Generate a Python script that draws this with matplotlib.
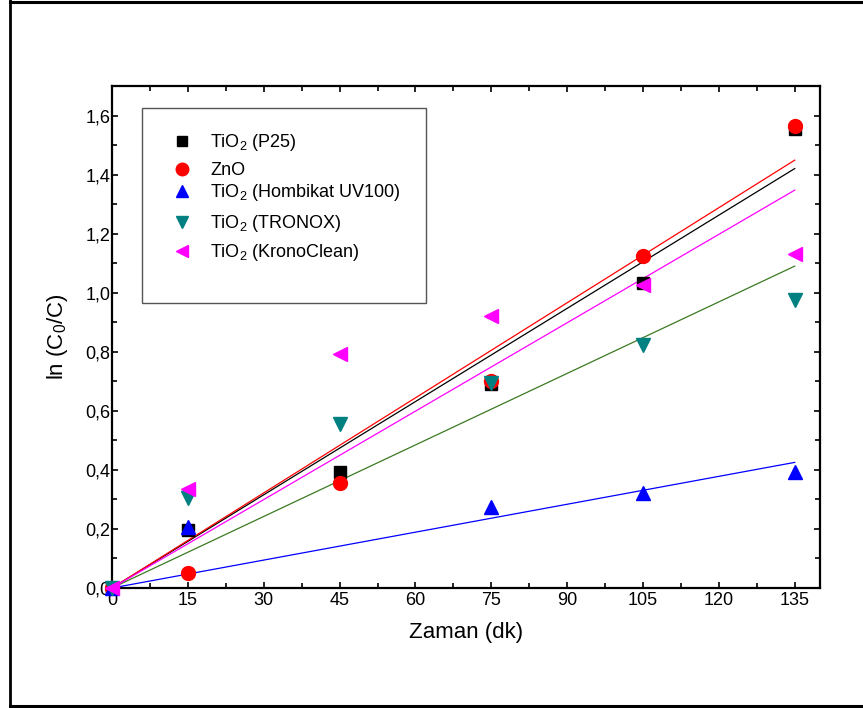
import numpy as np
import matplotlib
matplotlib.use("Agg")
import matplotlib.pyplot as plt
from matplotlib.ticker import MultipleLocator, FuncFormatter
from matplotlib.patches import Rectangle
from matplotlib.lines import Line2D

plt.rcParams['font.family'] = ['Liberation Sans', 'DejaVu Sans']
plt.rcParams['mathtext.fontset'] = 'custom'
plt.rcParams['mathtext.rm'] = 'Liberation Sans'
plt.rcParams['mathtext.it'] = 'Liberation Sans:italic'

# time (min)
zaman = [0, 15, 45, 75, 105, 135]

# ln(C0/C) for each catalyst (nan = no point)
p25 = [0.0, 0.197, 0.393, 0.690, 1.034, 1.553]
zno = [0.0, 0.050, 0.357, 0.700, 1.125, 1.563]
hombikat = [0.0, 0.207, np.nan, 0.275, 0.322, 0.393]
tronox = [0.0, 0.305, 0.556, 0.695, 0.823, 0.975]
kronoclean = [0.0, 0.335, 0.793, 0.922, 1.027, 1.132]

labels = ['TiO$_2$ (P25)', 'ZnO', 'TiO$_2$ (Hombikat UV100)',
          'TiO$_2$ (TRONOX)', 'TiO$_2$ (KronoClean)']
series = [p25, zno, hombikat, tronox, kronoclean]
markers = ['s', 'o', '^', 'v', '<']
msizes = [8.5, 10, 10, 10, 10]
mcolors = ['black', '#ff0000', '#0000ff', '#008080', '#ff00ff']
lcolors = ['black', '#ff0000', '#0000ff', '#3b7a22', '#ff00ff']

W, H = 863, 708
fig = plt.figure(figsize=(W / 100, H / 100), dpi=100)

# outer frame (right side lies outside the picture)
fr = dict(transform=fig.transFigure, color='black')
fig.add_artist(Line2D([10 / W, 10 / W], [0, 1], lw=2, **fr))
fig.add_artist(Line2D([10 / W, 1], [1 - 1.5 / H] * 2, lw=2.2, **fr))
fig.add_artist(Line2D([10 / W, 1], [1 - 706 / H] * 2, lw=2.2, **fr))

# axes box in pixels: x 112..820, y 86..588
ax = fig.add_axes([112 / W, 1 - 588 / H, (820 - 112) / W, (588 - 86) / H])
axw, axh = 708.0, 502.0

x = np.array(zaman, dtype=float)
# fitted lines through origin (drawn first, markers on top)
for ys, lc in zip(series, lcolors):
    y = np.array(ys, dtype=float)
    ok = ~np.isnan(y)
    k = np.sum(x[ok] * y[ok]) / np.sum(x[ok] ** 2)
    ax.plot([0, x[-1]], [0, k * x[-1]], '-', color=lc, lw=0.9, zorder=2)

for ys, m, ms, mc in zip(series, markers, msizes, mcolors):
    ax.plot(x, ys, ls='none', marker=m, ms=ms, color=mc,
            markeredgecolor=mc, zorder=3, clip_on=False)

ax.set_xlim(0, 140)
ax.set_ylim(0, 1.7)
ax.xaxis.set_major_locator(MultipleLocator(15))
ax.xaxis.set_minor_locator(MultipleLocator(7.5))
ax.yaxis.set_major_locator(MultipleLocator(0.2))
ax.yaxis.set_minor_locator(MultipleLocator(0.1))
ax.yaxis.set_major_formatter(
    FuncFormatter(lambda v, p: ('%.1f' % v).replace('.', ',')))
ax.xaxis.set_major_formatter(FuncFormatter(lambda v, p: '%d' % v))

for s in ax.spines.values():
    s.set_linewidth(1.6)
ax.tick_params(which='both', direction='in', top=True, right=True,
               width=1.2, labelsize=13)
ax.tick_params(which='major', length=4)
ax.tick_params(which='minor', length=3.5)
ax.tick_params(axis='y', pad=1)
ax.tick_params(axis='x', pad=3)

ax.set_xlabel('Zaman (dk)', fontsize=16, labelpad=9)
ax.set_ylabel('ln (C$_0$/C)', fontsize=16, labelpad=11)

# legend box drawn by hand
ax.add_patch(Rectangle(((142 - 112) / axw, (588 - 303) / axh),
                       (426 - 142) / axw, (303 - 108) / axh,
                       transform=ax.transAxes, fill=False,
                       edgecolor='#555555', lw=1.0, zorder=4))
row_y = [141, 169, 191, 222, 251]
for lab, m, ms, mc, py in zip(labels, markers, msizes, mcolors, row_y):
    ya = (588 - py) / axh
    ax.plot([(182 - 112) / axw], [ya], ls='none', marker=m, ms=ms * 0.9,
            color=mc, transform=ax.transAxes, zorder=5)
    ax.text((210 - 112) / axw, ya - 6 / axh, lab, transform=ax.transAxes,
            fontsize=13, va='baseline', ha='left', zorder=5)

fig.savefig('out.png', dpi=100)
